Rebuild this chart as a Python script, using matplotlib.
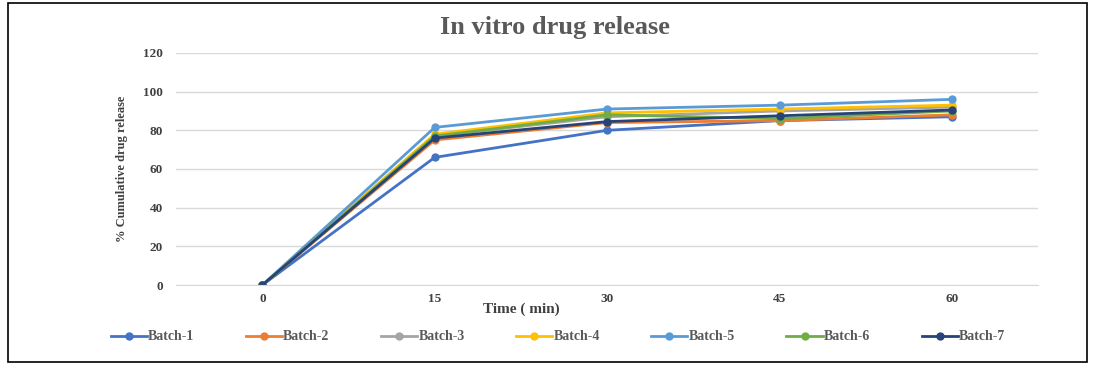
import matplotlib.pyplot as plt
from matplotlib.patches import Rectangle

time_labels = ['0', '15', '30', '45', '60']
batches = ['Batch-1', 'Batch-2', 'Batch-3', 'Batch-4', 'Batch-5', 'Batch-6', 'Batch-7']
batch1 = [0, 66, 80, 85, 87]
batch2 = [0, 75, 84, 85, 88]
batch3 = [0, 77, 87, 90, 92]
batch4 = [0, 78, 89, 91, 93]
batch5 = [0, 81.5, 91, 93, 96]
batch6 = [0, 77, 88, 86, 90]
batch7 = [0, 76, 84.5, 87.5, 90.5]
colors = ['#4472C4', '#ED7D31', '#A5A5A5', '#FFC000', '#5B9BD5', '#70AD47', '#264478']

plt.rcParams['font.family'] = ['Liberation Serif', 'DejaVu Serif']

fig = plt.figure(figsize=(10.94, 3.65), dpi=100)
ax = fig.add_axes([0.161, 0.219, 0.788, 0.636])

series = [batch1, batch2, batch3, batch4, batch5, batch6, batch7]
x = range(len(time_labels))
for name, vals, c in zip(batches, series, colors):
    ax.plot(x, vals, color=c, lw=2, marker='o', ms=5, label=name)

ax.set_xlim(-0.5, 4.5)
ax.set_ylim(0, 120)
ax.set_yticks(range(0, 121, 20))
ax.set_xticks(list(x))
ax.set_xticklabels(time_labels)
ax.yaxis.grid(True, color='#d9d9d9', lw=1)
ax.set_axisbelow(True)
for s in ['top', 'right', 'left']:
    ax.spines[s].set_visible(False)
ax.spines['bottom'].set_color('#d9d9d9')
ax.tick_params(length=0, labelsize=9.5, colors='#404040')
ax.tick_params(axis='x', pad=6)
ax.tick_params(axis='y', pad=9.5)
for lab in ax.get_xticklabels() + ax.get_yticklabels():
    lab.set_fontweight('bold')

ax.set_xlabel('Time ( min)', fontsize=11, fontweight='bold', color='#404040')
ax.xaxis.set_label_coords(0.40, -0.075)
ax.set_ylabel('% Cumulative drug release', fontsize=9, fontweight='bold', color='#404040', labelpad=11)

fig.text(0.507, 0.925, 'In vitro drug release', ha='center', va='center',
         fontsize=19, fontweight='bold', color='#595959')

leg = fig.legend(loc='center', bbox_to_anchor=(0.51, 0.077), ncol=7, frameon=False,
                 columnspacing=3.7, handlelength=2.6, handletextpad=0.1,
                 prop={'weight': 'bold', 'size': 10})
for t in leg.get_texts():
    t.set_color('#595959')

fig.patches.append(Rectangle((0.007, 0.008), 0.987, 0.984, transform=fig.transFigure,
                             fill=False, edgecolor='black', lw=1.2))

fig.savefig('out.png', dpi=100)
